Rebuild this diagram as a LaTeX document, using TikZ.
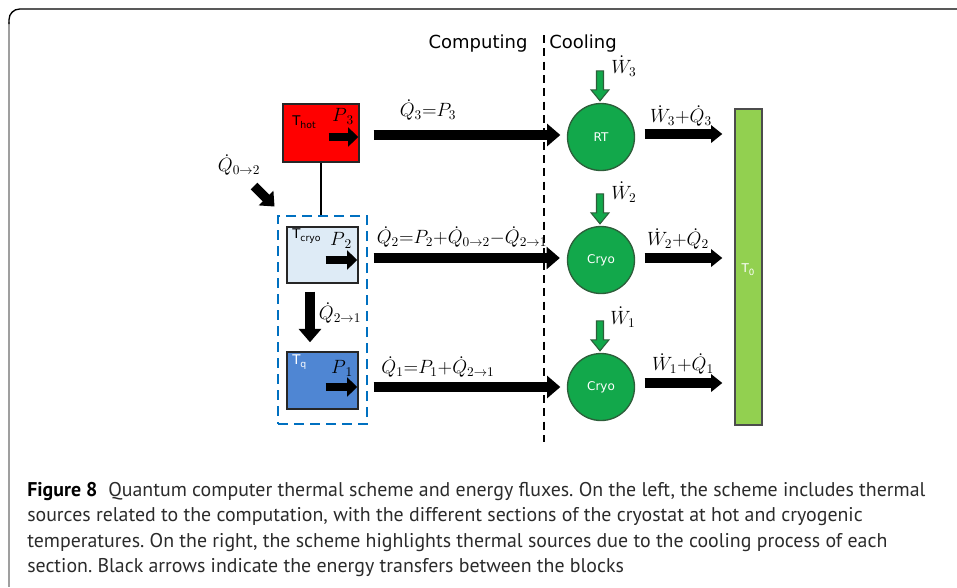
\documentclass[tikz,border=0pt]{standalone}
\usepackage[no-math]{fontspec}
\usetikzlibrary{arrows.meta}
\newfontfamily\dejavu{DejaVu Sans}
\newfontfamily\capfont{PT Sans}
\definecolor{hotred}{HTML}{FF0000}
\definecolor{cryoblue}{HTML}{DEEBF6}
\definecolor{qblue}{HTML}{4F86D3}
\definecolor{dblue}{HTML}{0070C0}
\definecolor{cgreen}{HTML}{12A84B}
\definecolor{bargreen}{HTML}{92D050}
\definecolor{gedge}{HTML}{2D5E3A}
\definecolor{capgray}{HTML}{2B2B2B}
\frenchspacing
\begin{document}
\begin{tikzpicture}[x=0.75pt,y=-0.75pt,
  box/.style={draw=black!85, line width=1.1pt, minimum width=53.25pt, minimum height=42pt, inner sep=0pt},
  circ/.style={circle, draw=gedge, line width=1pt, fill=cgreen, minimum size=50.25pt, inner sep=0pt, text=white, font=\dejavu\fontsize{9}{10}\selectfont},
  bigarrow/.style={line width=7.5pt, -{Triangle[width=16.5pt,length=10pt]}},
  midarrow/.style={line width=7pt, -{Triangle[width=13pt,length=8.5pt]}},
  smallarrow/.style={line width=6pt, -{Triangle[width=14pt,length=7.5pt]}},
  lab/.style={inner sep=0pt, font=\fontsize{14}{16}\selectfont},
  tlab/.style={inner sep=0pt, font=\dejavu\fontsize{10}{11}\selectfont},
  head/.style={inner sep=0pt, font=\dejavu\fontsize{13.5}{15}\selectfont},
  capline/.style={anchor=base west, inner sep=0pt, text=capgray, font=\capfont\fontsize{14.9}{16}\selectfont},
  pics/garrow/.style={code={\draw[fill=cgreen, draw=gedge, line width=0.8pt]
      (-3.5,0) -- (-3.5,19) -- (-9,19) -- (0,30) -- (9,19) -- (3.5,19) -- (3.5,0) -- cycle;}}
]
\useasboundingbox (0,0) rectangle (957,587);
% frame
\draw[gray!75, line width=1.2pt] (9,22) -- (9,587);
\draw[black, line width=1pt, rounded corners=8pt] (9,24) -- (9,9) -- (957,9);

% headers and divider
\coordinate (dtop) at (544,35);
\coordinate (dbot) at (544,442);
\draw[line width=2pt, dash pattern=on 6pt off 4pt] (dtop) -- (dbot);
\node[head] (computing) at (478,44) {Computing};
\node[head] (cooling) at (583,44) {Cooling};

% left boxes
\node[draw=dblue, line width=2.2pt, dash pattern=on 7.5pt off 4.5pt, minimum width=66.75pt, minimum height=156pt, inner sep=0pt] (grp) at (322.5,320) {};
\node[box, fill=hotred, minimum width=57pt, minimum height=43.5pt] (hot) at (321,133) {};
\node[box, fill=cryoblue] (cryo) at (322.5,255) {};
\node[box, fill=qblue, minimum height=42.75pt] (tq) at (322.5,380.5) {};
\draw[line width=1.2pt] (hot.south) -- (hot.south |- grp.north);

\node[tlab, anchor=west] (thot) at (292,122) {T\raisebox{-2pt}{\fontsize{7}{8}\selectfont hot}};
\node[tlab, anchor=west] (tcryo) at (292,236) {T\raisebox{-2pt}{\fontsize{7}{8}\selectfont cryo}};
\node[tlab, anchor=west, text=white] (tqlab) at (292,362) {T\raisebox{-2pt}{\fontsize{7}{8}\selectfont q}};
\node[lab] (p3) at (343,116) {$P_{\,3}$};
\node[lab] (p2) at (341,240) {$P_{\,2}$};
\node[lab] (p1) at (342,368) {$P_{\,1}$};

% inner arrows
\draw[smallarrow] ([shift={(-31,4)}]hot.east) -- ([shift={(-1.5,4)}]hot.east);
\draw[smallarrow] ([shift={(-33,5)}]cryo.east) -- ([shift={(-1.5,5)}]cryo.east);
\draw[smallarrow] ([shift={(-33,6.5)}]tq.east) -- ([shift={(-1.5,6.5)}]tq.east);

% Q 0->2
\node[lab] (q02) at (239,165) {$\dot{Q}_{0\to 2}$};
\coordinate (q02s) at (254,186);
\draw[line width=7pt, -{Triangle[width=15pt,length=9pt]}] (q02s) -- ([shift={(-2,-8)}]grp.north west);

% Q 2->1
\draw[bigarrow] ([shift={(-12.5,8)}]cryo.south) -- ([shift={(-12.5,-9)}]tq.north);
\node[lab] (q21) at (340,313) {$\dot{Q}_{2\to 1}$};

% circles and bar
\node[circ] (rt) at (601,137) {RT};
\node[circ] (c2) at (601,260) {Cryo};
\node[circ] (c1) at (601,387) {Cryo};
\node[draw=black!70, fill=bargreen, line width=1pt, minimum width=20.25pt, minimum height=237pt, inner sep=0pt] (bar) at (748.5,267) {};
\node[tlab, text=white, font=\dejavu\fontsize{9}{10}\selectfont] (t0) at (748,270) {T\raisebox{-2pt}{\fontsize{6.5}{7}\selectfont 0}};

% long arrows
\draw[bigarrow] ([shift={(14,2)}]hot.east) -- ([shift={(-6.5,2)}]hot.east -| rt.west);
\draw[bigarrow] ([shift={(15,3)}]cryo.east) -- ([shift={(-7,3)}]cryo.east -| c2.west);
\draw[bigarrow] ([shift={(15,6.5)}]tq.east) -- ([shift={(-6.5,6.5)}]tq.east -| c1.west);
\node[lab] (l3) at (428,110) {$\dot{Q}_3{=}P_3$};
\node[lab] (l2) at (462,237) {$\dot{Q}_2{=}P_2{+}\dot{Q}_{0\to 2}{-}\dot{Q}_{2\to 1}$};
\node[lab] (l1) at (438,367) {$\dot{Q}_1{=}P_1{+}\dot{Q}_{2\to 1}$};

% right arrows
\draw[midarrow] ([shift={(9.5,-3)}]rt.east) -- ([shift={(-12,-3)}]rt.east -| bar.west);
\draw[midarrow] ([shift={(9.5,-2)}]c2.east) -- ([shift={(-12,-2)}]c2.east -| bar.west);
\draw[midarrow] ([shift={(9.5,-4)}]c1.east) -- ([shift={(-12,-4)}]c1.east -| bar.west);
\node[lab] (r3) at (681,116) {$\dot{W}_3{+}\dot{Q}_3$};
\node[lab] (r2) at (678,239) {$\dot{W}_2{+}\dot{Q}_2$};
\node[lab] (r1) at (683,364) {$\dot{W}_1{+}\dot{Q}_1$};

% green arrows
\pic at ([shift={(-1,-32)}]rt.north) {garrow};
\pic at ([shift={(-1,-32)}]c2.north) {garrow};
\pic at ([shift={(-1,-32)}]c1.north) {garrow};
\node[lab] (w3) at (624,66) {$\dot{W}_3$};
\node[lab] (w2) at (624,192) {$\dot{W}_2$};
\node[lab] (w1) at (623,317) {$\dot{W}_1$};

% caption
\node[capline] (cap1) at (27,496) {{\color{black}\bfseries Figure 8}\hspace{0.55em}Quantum computer thermal scheme and energy fluxes. On the left, the scheme includes thermal};
\node[capline] (cap2) at (27,521.5) {sources related to the computation, with the different sections of the cryostat at hot and cryogenic};
\node[capline] (cap3) at (27,547) {temperatures. On the right, the scheme highlights thermal sources due to the cooling process of each};
\node[capline] (cap4) at (27,572.5) {section. Black arrows indicate the energy transfers between the blocks};
\end{tikzpicture}
\end{document}
